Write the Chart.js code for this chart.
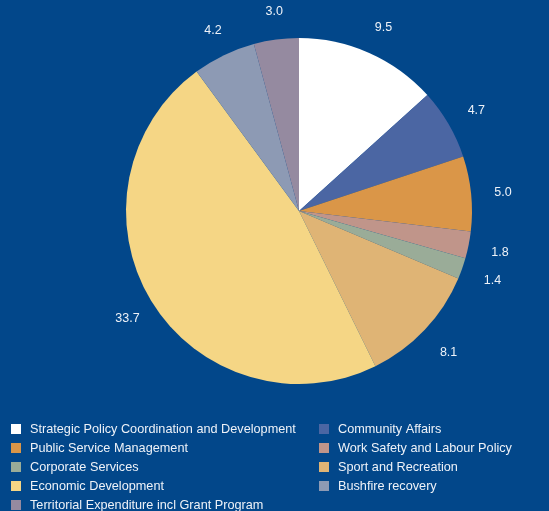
<!DOCTYPE html>
<html><head><meta charset="utf-8">
<script src="https://cdn.jsdelivr.net/npm/chart.js@4"></script>
<style>
html,body{margin:0;padding:0;background:#02478a;}
#wrap{position:relative;width:549px;height:511px;}
</style></head>
<body><div id="wrap"><canvas id="c" width="549" height="511"></canvas></div>
<script>
const categories = [
  "Strategic Policy Coordination and Development",
  "Community Affairs",
  "Public Service Management",
  "Work Safety and Labour Policy",
  "Corporate Services",
  "Sport and Recreation",
  "Economic Development",
  "Bushfire recovery",
  "Territorial Expenditure incl Grant Program"
];
const values = [9.5, 4.7, 5.0, 1.8, 1.4, 8.1, 33.7, 4.2, 3.0];
const valueLabels = ["9.5", "4.7", "5.0", "1.8", "1.4", "8.1", "33.7", "4.2", "3.0"];
const colors = ["#ffffff", "#4b66a3", "#da9648", "#c0958a", "#9aac98", "#dfb475", "#f5d685", "#8d9ab4", "#958aa0"];
// legend order (two columns, row-major)
const legendOrder = [0, 1, 2, 3, 4, 5, 6, 7, 8];

const FONT = '"Liberation Sans", Arial, Helvetica, sans-serif';

const labelPlugin = {
  id: 'outLabels',
  afterDatasetsDraw(chart) {
    const ctx = chart.ctx;
    const meta = chart.getDatasetMeta(0);
    ctx.save();
    ctx.font = '12.5px ' + FONT;
    ctx.fillStyle = '#eef2f8';
    ctx.textAlign = 'center';
    ctx.textBaseline = 'middle';
    meta.data.forEach((arc, i) => {
      const p = arc.getProps(['x','y','startAngle','endAngle','outerRadius'], true);
      const mid = (p.startAngle + p.endAngle) / 2;
      const r = p.outerRadius + 30;
      ctx.fillText(valueLabels[i], p.x + 2 + Math.cos(mid) * r, p.y + 2 + Math.sin(mid) * r);
    });
    ctx.restore();
  }
};

const legendPlugin = {
  id: 'gridLegend',
  afterDraw(chart) {
    const ctx = chart.ctx;
    ctx.save();
    ctx.font = '12.7px ' + FONT;
    ctx.textBaseline = 'middle';
    ctx.textAlign = 'left';
    const colX = [11, 319];
    const textX = [30, 338];
    const y0 = 429, dy = 19;
    legendOrder.forEach((idx, k) => {
      const col = k % 2, row = Math.floor(k / 2);
      const y = y0 + row * dy;
      ctx.fillStyle = colors[idx];
      ctx.fillRect(colX[col], y - 5, 10, 10);
      ctx.fillStyle = '#eef2f8';
      ctx.fillText(categories[idx], textX[col], y);
    });
    ctx.restore();
  }
};

new Chart(document.getElementById('c'), {
  type: 'pie',
  data: {
    labels: categories,
    datasets: [{ data: values, backgroundColor: colors, borderWidth: 0 }]
  },
  options: {
    responsive: false,
    animation: false,
    layout: { padding: { left: 126, right: 77, top: 38, bottom: 127 } },
    plugins: { legend: { display: false }, tooltip: { enabled: false } }
  },
  plugins: [labelPlugin, legendPlugin]
});
</script></body></html>
